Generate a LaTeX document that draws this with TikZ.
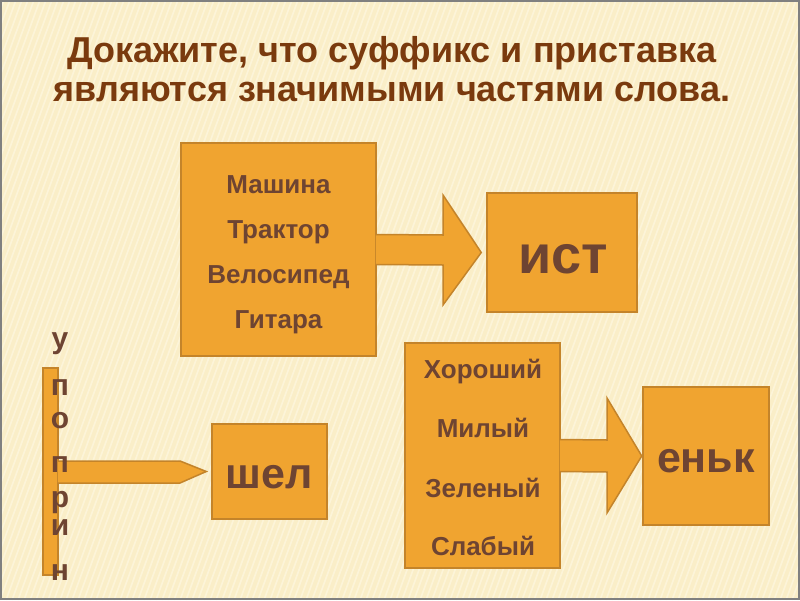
\documentclass[tikz,border=0pt]{standalone}
\usepackage{fontspec}
\setmainfont{Liberation Sans}
\definecolor{bgcream}{RGB}{250,238,200}
\definecolor{stripe}{RGB}{255,250,232}
\definecolor{frame}{RGB}{128,128,128}
\definecolor{boxfill}{RGB}{240,164,48}
\definecolor{boxline}{RGB}{196,132,42}
\definecolor{txtbrown}{RGB}{110,68,50}
\definecolor{titlebrown}{RGB}{122,58,14}
\tikzset{
  orangebox/.style={draw=boxline, fill=boxfill, line width=1.5pt, inner sep=0pt},
  blockarrow/.style={draw=boxline, fill=boxfill, line width=1.5pt, line join=miter},
  titletext/.style={font=\bfseries\fontsize{36}{40}\selectfont, text=titlebrown, anchor=base, inner sep=0pt},
  wordtext/.style={font=\bfseries\fontsize{26}{29}\selectfont, text=txtbrown, anchor=base, inner sep=0pt},
  suffixtext/.style={font=\bfseries\fontsize{43}{47}\selectfont, text=txtbrown, anchor=base, inner sep=0pt},
  lettertext/.style={font=\bfseries\fontsize{30}{32}\selectfont, text=txtbrown, anchor=base, inner sep=0pt}
}
\begin{document}
\begin{tikzpicture}[x=1pt,y=-1pt]
% background
\fill[bgcream] (0,0) rectangle (800,600);
\begin{scope}
\clip (0,0) rectangle (800,600);
\foreach \i in {-300,-294,...,800}{
  \draw[stripe, line width=1.6pt, opacity=0.55] (\i,600) -- (\i+220,0);
}
\end{scope}
\draw[frame, line width=2pt] (1,1) rectangle (799,599);
\useasboundingbox (0,0) rectangle (800,600);

% title
\node[titletext] (t1) at (392,62) {Докажите, что суффикс и приставка};
\node[titletext] (t2) at (392,101) {являются значимыми частями слова.};

% upper group
\node[orangebox, minimum width=195pt, minimum height=213pt] (box1) at (278.5,249.5) {};
\node[orangebox, minimum width=150pt, minimum height=119pt] (ist) at (562,252.5) {};
\draw[blockarrow] ([xshift=-1pt,yshift=15pt]box1.east) -- (443,235) -- (443,195) -- ([xshift=-5pt]ist.west) -- (443,305) -- (443,265) -- ([xshift=-1pt,yshift=-15pt]box1.east);
\node[wordtext] (w1) at (278.5,193) {Машина};
\node[wordtext] (w2) at (278.5,238) {Трактор};
\node[wordtext] (w3) at (278.5,283) {Велосипед};
\node[wordtext] (w4) at (278.5,328) {Гитара};
\node[suffixtext, font=\bfseries\fontsize{54}{58}\selectfont] (istt) at (563,273) {ист};

% lower right group
\node[orangebox, minimum width=155pt, minimum height=225pt] (box2) at (482.5,455.5) {};
\node[orangebox, minimum width=126pt, minimum height=138pt] (enk) at (706,456) {};
\draw[blockarrow] ([xshift=-1pt,yshift=16pt]box2.east) -- (607,440) -- (607,398) -- ([xshift=-0.5pt]enk.west) -- (607,513) -- (607,472) -- ([xshift=-1pt,yshift=-16pt]box2.east);
\node[wordtext] (v1) at (483,378) {Хороший};
\node[wordtext] (v2) at (483,437) {Милый};
\node[wordtext] (v3) at (483,497) {Зеленый};
\node[wordtext] (v4) at (483,555) {Слабый};
\node[suffixtext] (enkt) at (706,472) {еньк};

% lower left group
\node[orangebox, minimum width=115pt, minimum height=95pt] (shel) at (269.5,471.5) {};
\node[suffixtext] (shelt) at (269.5,488) {шел};
\node[orangebox, minimum width=15pt, minimum height=207pt] (bar) at (50.5,471.5) {};
\draw[blockarrow] ([xshift=-1pt]bar.east |- 0,461) -- (180,461) -- ([xshift=-5pt]shel.west) -- (180,483) -- ([xshift=-1pt]bar.east |- 0,483);
\node[lettertext] (l1) at (60,348) {у};
\node[lettertext] (l2) at (60,395) {п};
\node[lettertext] (l3) at (60,428) {о};
\node[lettertext] (l4) at (60,472) {п};
\node[lettertext] (l5) at (60,507) {р};
\node[lettertext] (l6) at (60,535) {и};
\node[lettertext] (l7) at (60,580) {н};
\end{tikzpicture}
\end{document}
